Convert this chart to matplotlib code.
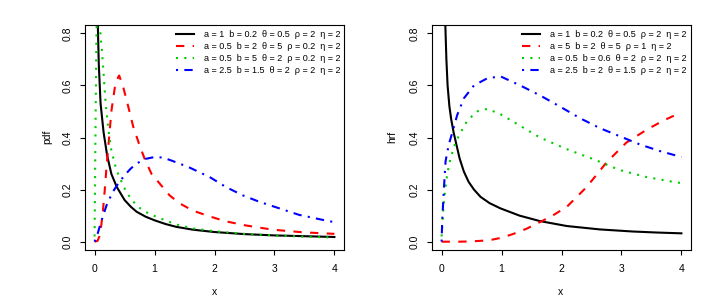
import matplotlib
matplotlib.use("Agg")
import matplotlib.pyplot as plt

# ---------------- data ----------------
# Left panel: pdf
pdf_labels = [
    "a = 1  b = 0.2  θ = 0.5  ρ = 2  η = 2",
    "a = 0.5  b = 2  θ = 5  ρ = 0.2  η = 2",
    "a = 0.5  b = 5  θ = 2  ρ = 0.2  η = 2",
    "a = 2.5  b = 1.5  θ = 2  ρ = 2  η = 2",
]
pdf1_x = [0.04, 0.055, 0.07, 0.1, 0.15, 0.21, 0.28, 0.37, 0.5, 0.6, 0.7, 0.85, 1.0, 1.18, 1.36, 1.64, 2.0, 2.5,
          3.0, 3.5, 4.0]
pdf1_y = [1.0, 0.82, 0.68, 0.53, 0.42, 0.33, 0.26, 0.21, 0.16, 0.135, 0.115, 0.096, 0.082, 0.068, 0.057, 0.046,
          0.037, 0.029, 0.024, 0.021, 0.018]

pdf2_x = [0, 0.05, 0.08, 0.11, 0.14, 0.17, 0.2, 0.244, 0.283, 0.339, 0.394, 0.41, 0.477, 0.56, 0.643, 0.754,
          0.837, 0.95, 1.09, 1.25, 1.42, 1.64, 1.92, 2.19, 2.53, 2.97, 3.47, 4.0]
pdf2_y = [0, 0.003, 0.02, 0.06, 0.12, 0.2, 0.29, 0.405, 0.506, 0.594, 0.632, 0.638, 0.594, 0.52, 0.443, 0.367,
          0.317, 0.26, 0.222, 0.178, 0.147, 0.119, 0.097, 0.078, 0.062, 0.046, 0.036, 0.030]

pdf3_x = [0, 0.005, 0.01, 0.02, 0.03, 0.04, 0.055, 0.07, 0.08, 0.1, 0.12, 0.14, 0.16, 0.185, 0.23, 0.28, 0.34,
          0.4, 0.45, 0.53, 0.64, 0.75, 0.9, 1.09, 1.36, 1.64, 2.0, 2.5, 3.0, 3.5, 4.0]
pdf3_y = [0.02, 0.15, 0.3, 0.55, 0.78, 0.9, 0.95, 0.92, 0.86, 0.79, 0.74, 0.68, 0.61, 0.53, 0.43, 0.35, 0.295,
          0.255, 0.23, 0.19, 0.155, 0.13, 0.108, 0.09, 0.066, 0.051, 0.04, 0.03, 0.024, 0.019, 0.016]

pdf4_x = [0, 0.05, 0.1, 0.2, 0.3, 0.4, 0.5, 0.6, 0.7, 0.85, 1.0, 1.14, 1.3, 1.58, 1.92, 2.19, 2.47, 2.75, 3.08,
          3.41, 3.88, 4.0]
pdf4_y = [0, 0.03, 0.07, 0.14, 0.19, 0.225, 0.255, 0.28, 0.30, 0.318, 0.325, 0.323, 0.31, 0.285, 0.248, 0.21,
          0.178, 0.153, 0.128, 0.103, 0.080, 0.075]

# Right panel: hrf
hrf_labels = [
    "a = 1  b = 0.2  θ = 0.5  ρ = 2  η = 2",
    "a = 5  b = 2  θ = 5  ρ = 1  η = 2",
    "a = 0.5  b = 0.6  θ = 2  ρ = 2  η = 2",
    "a = 2.5  b = 2  θ = 1.5  ρ = 2  η = 2",
]
hrf1_x = [0.045, 0.06, 0.08, 0.1, 0.13, 0.16, 0.2, 0.25, 0.3, 0.37, 0.45, 0.54, 0.65, 0.8, 0.98, 1.3, 1.64,
          2.09, 2.64, 3.19, 3.6, 4.0]
hrf1_y = [1.0, 0.85, 0.7, 0.6, 0.52, 0.47, 0.42, 0.37, 0.32, 0.27, 0.23, 0.2, 0.172, 0.148, 0.128, 0.1, 0.079,
          0.06, 0.047, 0.039, 0.035, 0.032]

hrf2_x = [0, 0.3, 0.5, 0.7, 0.85, 1.0, 1.2, 1.42, 1.64, 1.85, 2.09, 2.42, 2.75, 3.08, 3.42, 3.7, 4.0]
hrf2_y = [0, 0.0, 0.001, 0.004, 0.008, 0.015, 0.03, 0.05, 0.075, 0.1, 0.134, 0.21, 0.304, 0.38, 0.43, 0.465,
          0.497]

hrf3_x = [0, 0.01, 0.04, 0.094, 0.15, 0.23, 0.32, 0.43, 0.59, 0.76, 0.98, 1.31, 1.64, 2.09, 2.53, 2.97, 3.42,
          3.88, 4.0]
hrf3_y = [0.02, 0.06, 0.16, 0.26, 0.32, 0.38, 0.42, 0.465, 0.50, 0.51, 0.49, 0.445, 0.40, 0.355, 0.317, 0.275,
          0.248, 0.229, 0.225]

hrf4_x = [0, 0.011, 0.04, 0.067, 0.12, 0.18, 0.26, 0.37, 0.54, 0.76, 0.98, 1.31, 1.64, 1.98, 2.31, 2.64, 2.97,
          3.31, 3.64, 4.0]
hrf4_y = [0, 0.084, 0.21, 0.31, 0.373, 0.42, 0.486, 0.55, 0.60, 0.627, 0.635, 0.60, 0.562, 0.518, 0.474, 0.436,
          0.405, 0.373, 0.348, 0.325]

x_ticks = [0, 1, 2, 3, 4]
y_ticks = [0.0, 0.2, 0.4, 0.6, 0.8]

# ---------------- styling ----------------
plt.rcParams['font.family'] = ['Liberation Sans', 'DejaVu Sans']
colors = ['black', '#ff0000', '#00cc00', '#0000ff']
dash_styles = [None, (4, 4), (1, 3), (1, 3, 4, 3)]
LW = 1.5

W, H = 711, 307
fig = plt.figure(figsize=(W / 100, H / 100), dpi=100)

def px_axes(left, right, top, bottom):
    return fig.add_axes([left / W, 1 - bottom / H, (right - left) / W, (bottom - top) / H])

ax1 = px_axes(85, 344, 25, 250)
ax2 = px_axes(432, 691, 25, 250)

panels = [
    (ax1, [(pdf1_x, pdf1_y), (pdf2_x, pdf2_y), (pdf3_x, pdf3_y), (pdf4_x, pdf4_y)], pdf_labels),
    (ax2, [(hrf1_x, hrf1_y), (hrf2_x, hrf2_y), (hrf3_x, hrf3_y), (hrf4_x, hrf4_y)], hrf_labels),
]

for ax, series, labels in panels:
    for (xs, ys), c, ds, lab in zip(series, colors, dash_styles, labels):
        line, = ax.plot(xs, ys, color=c, lw=LW, label=lab)
        if ds is not None:
            line.set_dashes(ds)
    ax.set_xlim(-0.16, 4.16)
    ax.set_ylim(-0.032, 0.832)
    ax.set_xticks(x_ticks)
    ax.set_xticklabels([str(t) for t in x_ticks])
    ax.set_yticks(y_ticks)
    ax.set_yticklabels([f"{t:.1f}" for t in y_ticks], rotation=90, va='center')
    ax.tick_params(axis='both', direction='out', length=3.6, width=0.8, labelsize=7.5, color='black')
    ax.tick_params(axis='y', pad=5.5)
    ax.tick_params(axis='x', pad=6.5)
    for sp in ax.spines.values():
        sp.set_linewidth(0.8)
        sp.set_color('black')
    leg = ax.legend(loc='upper right', bbox_to_anchor=(1 - 4 / 259, 1 - 5 / 225), frameon=False,
                    fontsize=6.5, handlelength=2.0, handletextpad=1.1, labelspacing=0.35,
                    borderpad=0, borderaxespad=0)

fig.text(47 / W, 1 - 137 / H, "pdf", rotation=90, ha='center', va='center', fontsize=7.5)
fig.text(215 / W, 1 - 292 / H, "x", ha='center', va='center', fontsize=7.5)
fig.text(392 / W, 1 - 137 / H, "hrf", rotation=90, ha='center', va='center', fontsize=7.5)
fig.text(561 / W, 1 - 292 / H, "x", ha='center', va='center', fontsize=7.5)

fig.savefig("out.png", dpi=100)
